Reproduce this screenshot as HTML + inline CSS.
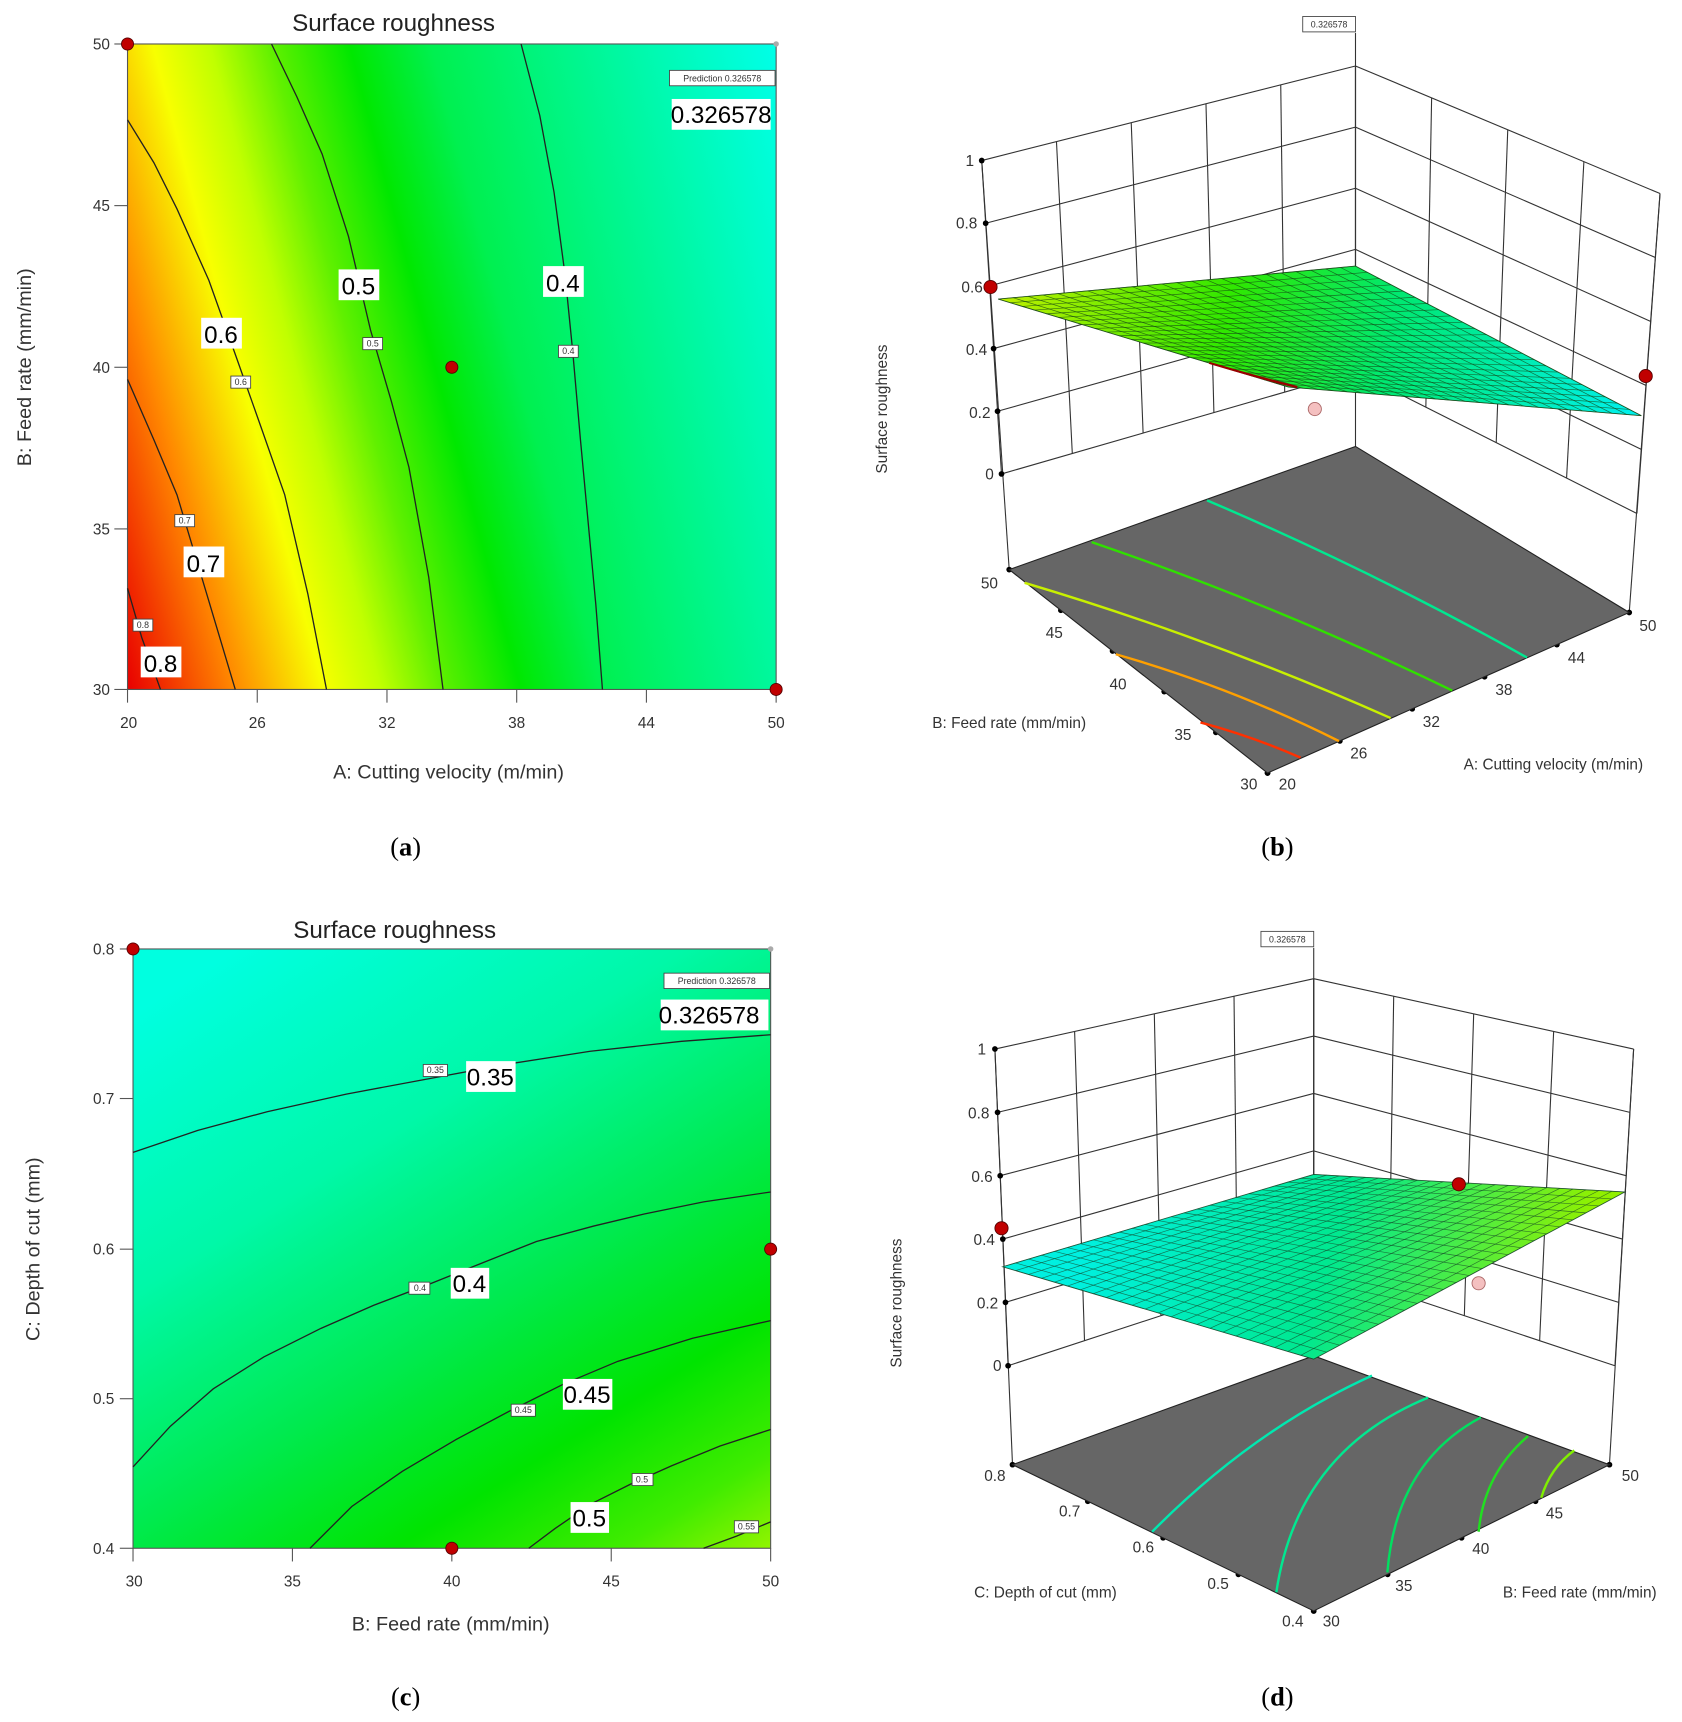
<!DOCTYPE html>
<html><head><meta charset="utf-8"><style>
html,body{margin:0;padding:0;background:#fff;}
svg{display:block;}
text{font-family:"Liberation Sans",sans-serif;}
.tk{font-size:14px;fill:#333;}
.ax{font-size:18px;fill:#333;}
.ttl{font-size:22px;fill:#222;}
.cap{font-family:"Liberation Serif",serif;font-size:24px;fill:#000;}
.big{font-size:22px;fill:#000;}
.sm{font-size:8px;fill:#333;}
.cl{fill:none;stroke:#222;stroke-width:1.2;}
.gl{fill:none;stroke:#333;stroke-width:1;}
</style></head><body>
<svg id="s" width="1682" height="1722" viewBox="0 0 1530 1566" preserveAspectRatio="none" xmlns="http://www.w3.org/2000/svg">
<defs>
<linearGradient id="ga" gradientUnits="userSpaceOnUse" x1="116" y1="627" x2="812" y2="442">
<stop offset="0" stop-color="#e80000"/><stop offset="0.04" stop-color="#f02800"/>
<stop offset="0.13" stop-color="#ff8800"/><stop offset="0.24" stop-color="#f8ff00"/>
<stop offset="0.31" stop-color="#c0ff00"/><stop offset="0.384" stop-color="#60f000"/>
<stop offset="0.48" stop-color="#00e800"/><stop offset="0.58" stop-color="#00f050"/>
<stop offset="1" stop-color="#00ffe8"/></linearGradient>
<linearGradient id="gc" gradientUnits="userSpaceOnUse" x1="220" y1="860" x2="600" y2="1470">
<stop offset="0" stop-color="#00ffe0"/><stop offset="0.3" stop-color="#00f8a8"/>
<stop offset="0.55" stop-color="#00ea50"/><stop offset="0.75" stop-color="#00e400"/>
<stop offset="0.9" stop-color="#40ec00"/><stop offset="1" stop-color="#90f400"/></linearGradient>
<linearGradient id="gb" gradientUnits="userSpaceOnUse" x1="908" y1="272" x2="1493" y2="378">
<stop offset="0" stop-color="#c0f000"/><stop offset="0.35" stop-color="#30e800"/>
<stop offset="0.6" stop-color="#00e870"/><stop offset="1" stop-color="#00f0f0"/></linearGradient>
<linearGradient id="gd" gradientUnits="userSpaceOnUse" x1="1000" y1="1080" x2="1420" y2="1200">
<stop offset="0" stop-color="#00f0e0"/><stop offset="0.5" stop-color="#00e890"/>
<stop offset="1" stop-color="#90f000"/></linearGradient>
</defs>

<!-- Panel a -->
<rect x="116" y="40" width="590" height="587" fill="url(#ga)" stroke="#555" stroke-width="1"/>
<polyline class="cl" points="116,535 129,580 146,627"/>
<polyline class="cl" points="116,345 140,400 161,450 188,540 214,627"/>
<polyline class="cl" points="116,109 140,148 161,190 190,255 215,325 238,390 259,450 280,540 297,627"/>
<polyline class="cl" points="247,40 270,88 293,140 317,215 337,300 356,365 372,425 390,525 403,627"/>
<polyline class="cl" points="474,40 491,105 504,175 514,250 521,320 528,400 535,475 542,550 548,627"/>
<g class="tk" text-anchor="end">
<text x="100" y="45">50</text><text x="100" y="192">45</text><text x="100" y="339">40</text><text x="100" y="486">35</text><text x="100" y="632">30</text></g>
<g stroke="#555"><line x1="104" y1="40" x2="116" y2="40"/><line x1="104" y1="187" x2="116" y2="187"/><line x1="104" y1="334" x2="116" y2="334"/><line x1="104" y1="481" x2="116" y2="481"/><line x1="104" y1="627" x2="116" y2="627"/>
<line x1="116" y1="627" x2="116" y2="639"/><line x1="234" y1="627" x2="234" y2="639"/><line x1="352" y1="627" x2="352" y2="639"/><line x1="470" y1="627" x2="470" y2="639"/><line x1="588" y1="627" x2="588" y2="639"/><line x1="706" y1="627" x2="706" y2="639"/></g>
<g class="tk" text-anchor="middle">
<text x="117" y="662">20</text><text x="234" y="662">26</text><text x="352" y="662">32</text><text x="470" y="662">38</text><text x="588" y="662">44</text><text x="706" y="662">50</text></g>
<text class="ttl" x="358" y="28" text-anchor="middle">Surface roughness</text>
<text class="ax" x="408" y="708" text-anchor="middle">A: Cutting velocity (m/min)</text>
<text class="ax" transform="translate(28,334) rotate(-90)" text-anchor="middle">B: Feed rate (mm/min)</text>
<g>
<rect x="308" y="245" width="37" height="28" fill="#fff"/><text class="big" x="326" y="268" text-anchor="middle">0.5</text>
<rect x="494" y="242" width="37" height="28" fill="#fff"/><text class="big" x="512" y="265" text-anchor="middle">0.4</text>
<rect x="183" y="289" width="37" height="28" fill="#fff"/><text class="big" x="201" y="312" text-anchor="middle">0.6</text>
<rect x="167" y="497" width="37" height="28" fill="#fff"/><text class="big" x="185" y="520" text-anchor="middle">0.7</text>
<rect x="128" y="588" width="37" height="28" fill="#fff"/><text class="big" x="146" y="611" text-anchor="middle">0.8</text>
<rect x="611" y="90" width="90" height="28" fill="#fff"/><text class="big" x="656" y="112" text-anchor="middle">0.326578</text>
</g>
<g fill="#fff" stroke="#444" stroke-width="0.8">
<rect x="330" y="307" width="18" height="11"/><rect x="508" y="314" width="18" height="11"/><rect x="210" y="342" width="18" height="11"/><rect x="159" y="468" width="18" height="11"/><rect x="121" y="563" width="18" height="11"/><rect x="609" y="64" width="96" height="14"/></g>
<g class="sm" text-anchor="middle"><text x="339" y="315">0.5</text><text x="517" y="322">0.4</text><text x="219" y="350">0.6</text><text x="168" y="476">0.7</text><text x="130" y="571">0.8</text><text x="657" y="74">Prediction  0.326578</text></g>
<g fill="#c00000" stroke="#500" stroke-width="0.8"><circle cx="116" cy="40" r="5.5"/><circle cx="411" cy="334" r="5.5"/><circle cx="706" cy="627" r="5.5"/></g>
<circle cx="706" cy="40" r="2.5" fill="#aaa"/>
<text class="cap" x="369" y="778" text-anchor="middle">(<tspan font-weight="bold">a</tspan>)</text>

<!-- Panel c -->
<rect x="121" y="863" width="580" height="545" fill="url(#gc)" stroke="#555" stroke-width="1"/>
<polyline class="cl" points="121,1048 180,1028 243,1011 315,995 390,981 460,968 537,956 620,947 701,941"/>
<polyline class="cl" points="121,1334 155,1297 194,1263 240,1234 292,1208 340,1187 390,1168 440,1148 488,1129 540,1115 586,1104 640,1093 701,1084"/>
<polyline class="cl" points="282,1408 320,1370 366,1338 415,1309 464,1283 512,1259 562,1238 630,1217 701,1201"/>
<polyline class="cl" points="481,1408 505,1390 537,1368 575,1349 611,1333 655,1315 701,1300"/>
<polyline class="cl" points="640,1408 670,1397 701,1384"/>
<g class="tk" text-anchor="end">
<text x="104" y="868">0.8</text><text x="104" y="1004">0.7</text><text x="104" y="1141">0.6</text><text x="104" y="1277">0.5</text><text x="104" y="1413">0.4</text></g>
<g stroke="#555"><line x1="109" y1="863" x2="121" y2="863"/><line x1="109" y1="999" x2="121" y2="999"/><line x1="109" y1="1136" x2="121" y2="1136"/><line x1="109" y1="1272" x2="121" y2="1272"/><line x1="109" y1="1408" x2="121" y2="1408"/>
<line x1="121" y1="1408" x2="121" y2="1420"/><line x1="266" y1="1408" x2="266" y2="1420"/><line x1="411" y1="1408" x2="411" y2="1420"/><line x1="556" y1="1408" x2="556" y2="1420"/><line x1="701" y1="1408" x2="701" y2="1420"/></g>
<g class="tk" text-anchor="middle">
<text x="122" y="1443">30</text><text x="266" y="1443">35</text><text x="411" y="1443">40</text><text x="556" y="1443">45</text><text x="701" y="1443">50</text></g>
<text class="ttl" x="359" y="853" text-anchor="middle">Surface roughness</text>
<text class="ax" x="410" y="1483" text-anchor="middle">B: Feed rate (mm/min)</text>
<text class="ax" transform="translate(36,1136) rotate(-90)" text-anchor="middle">C: Depth of cut (mm)</text>
<rect x="424" y="965" width="45" height="28" fill="#fff"/><text class="big" x="446" y="987" text-anchor="middle">0.35</text>
<rect x="410" y="1153" width="35" height="28" fill="#fff"/><text class="big" x="427" y="1175" text-anchor="middle">0.4</text>
<rect x="512" y="1254" width="45" height="28" fill="#fff"/><text class="big" x="534" y="1276" text-anchor="middle">0.45</text>
<rect x="519" y="1366" width="35" height="28" fill="#fff"/><text class="big" x="536" y="1388" text-anchor="middle">0.5</text>
<rect x="601" y="909" width="98" height="28" fill="#fff"/><text class="big" x="645" y="931" text-anchor="middle">0.326578</text>
<g fill="#fff" stroke="#444" stroke-width="0.8">
<rect x="385" y="968" width="22" height="11"/><rect x="372" y="1166" width="19" height="11"/><rect x="465" y="1277" width="22" height="11"/><rect x="575" y="1340" width="19" height="11"/><rect x="668" y="1383" width="22" height="11"/><rect x="604" y="885" width="96" height="14"/></g>
<g class="sm" text-anchor="middle"><text x="396" y="976">0.35</text><text x="382" y="1174">0.4</text><text x="476" y="1285">0.45</text><text x="584" y="1348">0.5</text><text x="679" y="1391">0.55</text><text x="652" y="895">Prediction  0.326578</text></g>
<g fill="#c00000" stroke="#500" stroke-width="0.8"><circle cx="121" cy="863" r="5.5"/><circle cx="701" cy="1136" r="5.5"/><circle cx="411" cy="1408" r="5.5"/></g>
<circle cx="701" cy="863" r="2.5" fill="#aaa"/>
<text class="cap" x="369" y="1551" text-anchor="middle">(<tspan font-weight="bold">c</tspan>)</text>

<!-- Panel b static -->
<g id="pb"></g>
<polygon points="918,518 1233,406 1482,557 1153,703" fill="#666" stroke="#222" stroke-width="1"/>
<g fill="none" stroke-width="2.2">
<path d="M1098,455 Q1250,520 1389,598" stroke="#00e890"/>
<path d="M993,493 Q1160,550 1321,628" stroke="#30e000"/>
<path d="M932,530 Q1100,580 1265,653" stroke="#c8f000"/>
<path d="M1015,595 Q1120,625 1218,674" stroke="#ffa000"/>
<path d="M1092,657 Q1140,670 1183,689" stroke="#ff3000"/>
</g>
<rect x="1185" y="15" width="48" height="14" fill="#fff" stroke="#444" stroke-width="0.8"/>
<text class="sm" x="1209" y="25" text-anchor="middle">0.326578</text>
<g class="tk" text-anchor="end">
<text x="886" y="151">1</text><text x="889" y="208">0.8</text><text x="894" y="266">0.6</text><text x="898" y="323">0.4</text><text x="901" y="380">0.2</text><text x="904" y="436">0</text></g>
<g class="tk" text-anchor="middle">
<text x="900" y="535">50</text><text x="959" y="580">45</text><text x="1017" y="627">40</text><text x="1076" y="673">35</text><text x="1136" y="718">30</text>
<text x="1171" y="718">20</text><text x="1236" y="690">26</text><text x="1302" y="661">32</text><text x="1368" y="632">38</text><text x="1434" y="603">44</text><text x="1499" y="574">50</text></g>
<text class="tk" font-size="15" x="918" y="662" text-anchor="middle">B: Feed rate (mm/min)</text>
<text class="tk" font-size="15" x="1413" y="700" text-anchor="middle">A: Cutting velocity (m/min)</text>
<text class="tk" font-size="15" transform="translate(807,372) rotate(-90)" text-anchor="middle">Surface roughness</text>
<g id="pbs"></g>
<text class="cap" x="1162" y="778" text-anchor="middle">(<tspan font-weight="bold">b</tspan>)</text>

<!-- Panel d static -->
<g id="pd"></g>
<polygon points="921,1332 1195,1233 1464,1332 1195,1465" fill="#666" stroke="#222" stroke-width="1"/>
<g fill="none" stroke-width="2.2">
<path d="M1048,1393 Q1140,1300 1248,1251" stroke="#00e8b0"/>
<path d="M1161,1448 Q1180,1320 1299,1271" stroke="#00e890"/>
<path d="M1262,1430 Q1270,1330 1347,1289" stroke="#00e060"/>
<path d="M1345,1393 Q1350,1340 1390,1306" stroke="#20e020"/>
<path d="M1402,1362 Q1410,1335 1432,1319" stroke="#80f000"/>
</g>
<rect x="1147" y="847" width="48" height="14" fill="#fff" stroke="#444" stroke-width="0.8"/>
<text class="sm" x="1171" y="857" text-anchor="middle">0.326578</text>
<g class="tk" text-anchor="end">
<text x="897" y="959">1</text><text x="900" y="1017">0.8</text><text x="903" y="1075">0.6</text><text x="905" y="1132">0.4</text><text x="908" y="1190">0.2</text><text x="911" y="1247">0</text></g>
<g class="tk" text-anchor="middle">
<text x="905" y="1347">0.8</text><text x="973" y="1379">0.7</text><text x="1040" y="1412">0.6</text><text x="1108" y="1445">0.5</text><text x="1176" y="1479">0.4</text>
<text x="1211" y="1479">30</text><text x="1277" y="1447">35</text><text x="1347" y="1413">40</text><text x="1414" y="1381">45</text><text x="1483" y="1347">50</text></g>
<text class="tk" font-size="15" x="951" y="1453" text-anchor="middle">C: Depth of cut (mm)</text>
<text class="tk" font-size="15" x="1437" y="1453" text-anchor="middle">B: Feed rate (mm/min)</text>
<text class="tk" font-size="15" transform="translate(820,1185) rotate(-90)" text-anchor="middle">Surface roughness</text>
<g id="pds"></g>
<text class="cap" x="1162" y="1551" text-anchor="middle">(<tspan font-weight="bold">d</tspan>)</text>
</svg>
<script>
var NS="http://www.w3.org/2000/svg";
function el(p,t,a){var e=document.createElementNS(NS,t);for(var k in a)e.setAttribute(k,a[k]);p.appendChild(e);return e;}
function L(a,b,t){return [a[0]+(b[0]-a[0])*t,a[1]+(b[1]-a[1])*t];}
function line(g,a,b,c,w){el(g,"line",{x1:a[0],y1:a[1],x2:b[0],y2:b[1],stroke:c||"#333","stroke-width":w||1});}
function wall(g,Ot,Bt,B0,O0,nv){
  for(var k=0;k<=5;k++)line(g,L(Ot,O0,k/5),L(Bt,B0,k/5));
  for(var j=0;j<=nv;j++)line(g,L(Ot,Bt,j/nv),L(O0,B0,j/nv));
}
function dots(g,a,b,n){for(var i=0;i<=n;i++){var p=L(a,b,i/n);el(g,"circle",{cx:p[0],cy:p[1],r:2.6,fill:"#000"});}}
function mesh(g,P,fill,col,N){
  el(g,"polygon",{points:P.map(function(p){return p.join(",")}).join(" "),fill:fill,stroke:col,"stroke-width":0.8});
  function bl(u,v){var a=L(P[0],P[1],u),b=L(P[3],P[2],u);return L(a,b,v);}
  for(var i=0;i<=N;i++){line(g,bl(i/N,0),bl(i/N,1),col,0.6);line(g,bl(0,i/N),bl(1,i/N),col,0.6);}
}
// panel b
var g=document.getElementById("pb");
var lt=[893,146],bt=[1233,60],rt=[1510,176],l0=[911,431],b0=[1233,338],r0=[1489,467];
wall(g,lt,bt,b0,l0,5);wall(g,rt,bt,b0,r0,4);
line(g,lt,[918,518]);line(g,[1233,30],[1233,406]);line(g,rt,[1482,557]);
dots(g,lt,l0,5);dots(g,[918,518],[1153,703],5);dots(g,[1153,703],[1482,557],5);
var s=document.getElementById("pbs");
mesh(s,[[908,272],[1233,242],[1493,378],[1172,352]],"url(#gb)","rgba(20,70,20,0.75)",24);
el(s,"path",{d:"M1100,330 Q1150,345 1180,352 Q1140,342 1100,330",fill:"#b00000",stroke:"#900","stroke-width":2});
el(s,"circle",{cx:901,cy:261,r:6,fill:"#c00000",stroke:"#500","stroke-width":0.8});
el(s,"circle",{cx:1497,cy:342,r:6,fill:"#c00000",stroke:"#500","stroke-width":0.8});
el(s,"circle",{cx:1196,cy:372,r:6,fill:"#f4c0c0",stroke:"#a66","stroke-width":0.8});
// panel d
g=document.getElementById("pd");
lt=[905,954];bt=[1195,890];rt=[1486,954];l0=[917,1242];b0=[1195,1151];r0=[1469,1242];
wall(g,lt,bt,b0,l0,4);wall(g,rt,bt,b0,r0,4);
line(g,lt,[921,1332]);line(g,[1195,862],[1195,1233]);line(g,rt,[1464,1332]);
dots(g,lt,l0,5);dots(g,[921,1332],[1195,1465],4);dots(g,[1195,1465],[1464,1332],4);
s=document.getElementById("pds");
mesh(s,[[912,1152],[1195,1068],[1478,1084],[1195,1236]],"url(#gd)","rgba(20,70,40,0.7)",24);
el(s,"circle",{cx:911,cy:1117,r:6,fill:"#c00000",stroke:"#500","stroke-width":0.8});
el(s,"circle",{cx:1327,cy:1077,r:6,fill:"#c00000",stroke:"#500","stroke-width":0.8});
el(s,"circle",{cx:1345,cy:1167,r:6,fill:"#f4c0c0",stroke:"#a66","stroke-width":0.8});
</script>
</body></html>
